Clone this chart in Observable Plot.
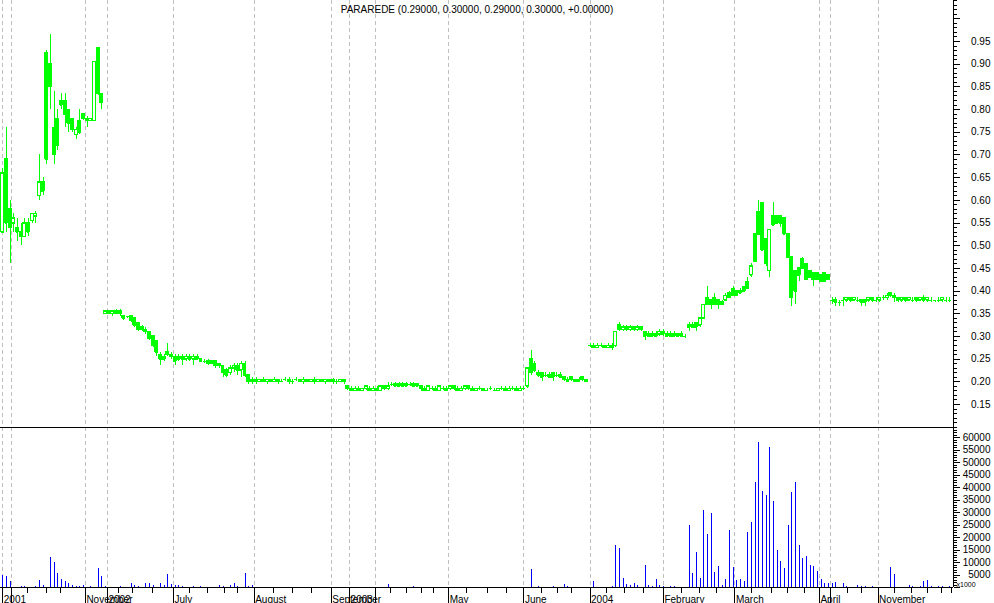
<!DOCTYPE html>
<html><head><meta charset="utf-8">
<script src="https://cdn.jsdelivr.net/npm/d3@7"></script>
<script src="https://cdn.jsdelivr.net/npm/@observablehq/plot@0.6"></script>
<style>
html,body{margin:0;padding:0;background:#fff;}
#chart svg{display:block;shape-rendering:crispEdges;}
</style></head><body><div id="chart"></div>
<script>
const title = "PARAREDE (0.29000, 0.30000, 0.29000, 0.30000, +0.00000)";

// [open, high, low, close] per trading bar
const bars2001 = [
[0.53,0.67,0.53,0.66],[0.69,0.76,0.53,0.55],[0.58,0.60,0.46,0.54],[0.55,0.57,0.53,0.56],[0.54,0.56,0.51,0.53],
[0.53,0.55,0.50,0.52],[0.52,0.56,0.52,0.55],[0.55,0.56,0.52,0.53],[0.555,0.57,0.55,0.57],[0.565,0.575,0.55,0.57],
[0.61,0.70,0.60,0.64],[0.64,0.65,0.61,0.62],[0.925,0.93,0.68,0.69],[0.90,0.965,0.80,0.85],[0.76,0.84,0.68,0.70],
[0.78,0.80,0.71,0.72],[0.82,0.835,0.80,0.81],[0.82,0.835,0.76,0.79],[0.80,0.80,0.75,0.77],[0.78,0.78,0.75,0.755],
[0.745,0.76,0.735,0.755],[0.775,0.80,0.745,0.75],[0.79,0.79,0.775,0.78],[0.78,0.785,0.76,0.775],[0.775,0.78,0.775,0.78],
[0.775,0.905,0.775,0.905],[0.935,0.935,0.83,0.835],[0.835,0.835,0.80,0.815]
];
const bars2002 = [
[0.35,0.355,0.348,0.355],[0.355,0.355,0.348,0.35],[0.35,0.355,0.345,0.355],[0.355,0.36,0.35,0.35],[0.355,0.36,0.345,0.35],
[0.345,0.345,0.335,0.34],[0.345,0.345,0.34,0.345],[0.345,0.345,0.33,0.335],[0.34,0.34,0.32,0.325],[0.33,0.33,0.31,0.315],
[0.32,0.325,0.31,0.315],[0.315,0.32,0.305,0.31],[0.31,0.31,0.29,0.295],[0.30,0.30,0.275,0.28],[0.29,0.29,0.255,0.265],
[0.26,0.265,0.235,0.25],[0.255,0.26,0.245,0.25],[0.265,0.285,0.255,0.26],[0.26,0.265,0.25,0.255],[0.255,0.26,0.235,0.245],
[0.255,0.26,0.245,0.25],[0.255,0.26,0.235,0.25],[0.25,0.26,0.245,0.255],[0.255,0.26,0.245,0.25],[0.25,0.26,0.235,0.255],
[0.255,0.26,0.25,0.25],[0.25,0.25,0.245,0.245],[0.245,0.25,0.24,0.245],[0.245,0.25,0.235,0.24],[0.245,0.245,0.24,0.24],
[0.245,0.245,0.23,0.235],[0.24,0.24,0.23,0.235],[0.235,0.235,0.21,0.22],[0.225,0.23,0.21,0.215],[0.22,0.235,0.215,0.23],
[0.23,0.24,0.22,0.235],[0.235,0.24,0.215,0.225],[0.225,0.245,0.21,0.24],[0.24,0.245,0.21,0.215],[0.215,0.215,0.195,0.20],
[0.205,0.21,0.195,0.20],[0.205,0.21,0.195,0.20],[0.20,0.205,0.20,0.205],[0.205,0.21,0.20,0.20],[0.20,0.205,0.195,0.205],
[0.205,0.205,0.20,0.20],[0.20,0.21,0.20,0.205],[0.205,0.205,0.195,0.20],[0.20,0.205,0.20,0.20],[0.205,0.21,0.20,0.205],
[0.205,0.21,0.195,0.20],[0.20,0.205,0.195,0.20],[0.205,0.21,0.20,0.205],[0.205,0.205,0.20,0.20],[0.20,0.21,0.195,0.205],
[0.205,0.205,0.20,0.20],[0.20,0.205,0.20,0.205],[0.205,0.21,0.195,0.20],[0.20,0.205,0.20,0.205],[0.205,0.205,0.20,0.20],
[0.20,0.205,0.195,0.205],[0.205,0.205,0.20,0.20],[0.205,0.207,0.195,0.20],[0.20,0.205,0.195,0.20],[0.20,0.205,0.20,0.205],
[0.205,0.205,0.195,0.20],[0.19,0.19,0.18,0.185]
];
const bars2003 = [
[0.185,0.19,0.18,0.18],[0.18,0.19,0.178,0.185],[0.185,0.19,0.18,0.18],[0.18,0.185,0.178,0.185],[0.185,0.19,0.18,0.19],
[0.185,0.19,0.178,0.18],[0.18,0.19,0.178,0.185],[0.185,0.19,0.18,0.18],[0.18,0.19,0.18,0.19],[0.19,0.19,0.18,0.185],
[0.185,0.198,0.18,0.19],[0.195,0.198,0.19,0.195],[0.195,0.198,0.19,0.19],[0.19,0.198,0.19,0.195],[0.195,0.198,0.19,0.19],
[0.19,0.198,0.19,0.195],[0.195,0.198,0.19,0.195],[0.195,0.198,0.19,0.19],[0.19,0.195,0.19,0.195],[0.19,0.19,0.178,0.185],
[0.185,0.19,0.18,0.18],[0.18,0.19,0.18,0.19],[0.185,0.19,0.18,0.185],[0.185,0.19,0.18,0.18],[0.18,0.19,0.178,0.19],
[0.185,0.19,0.18,0.185],[0.185,0.19,0.18,0.18],[0.185,0.19,0.18,0.19],[0.19,0.19,0.18,0.185],[0.185,0.19,0.178,0.18],
[0.18,0.19,0.18,0.185],[0.185,0.19,0.18,0.19],[0.19,0.19,0.18,0.185],[0.185,0.19,0.18,0.18],[0.18,0.185,0.178,0.185],
[0.185,0.19,0.18,0.185],[0.185,0.185,0.178,0.18],[0.18,0.185,0.178,0.18],[0.185,0.19,0.18,0.185],[0.18,0.185,0.178,0.18],
[0.18,0.185,0.178,0.185],[0.185,0.19,0.18,0.185],[0.185,0.19,0.18,0.18],[0.18,0.19,0.178,0.185],[0.185,0.19,0.18,0.185],
[0.185,0.19,0.18,0.18],[0.18,0.19,0.178,0.185],[0.185,0.19,0.18,0.185],[0.19,0.23,0.185,0.23],[0.25,0.27,0.215,0.22],
[0.24,0.245,0.22,0.225],[0.22,0.225,0.21,0.215],[0.22,0.22,0.20,0.21],[0.215,0.22,0.21,0.215],[0.215,0.22,0.21,0.21],
[0.22,0.22,0.20,0.21],[0.215,0.22,0.21,0.215],[0.215,0.22,0.21,0.21],[0.21,0.21,0.20,0.205],[0.205,0.21,0.20,0.20],
[0.21,0.21,0.20,0.205],[0.205,0.205,0.198,0.20],[0.205,0.21,0.198,0.20],[0.21,0.21,0.20,0.205],[0.205,0.205,0.20,0.20]
];
const bars2004 = [
[0.28,0.285,0.275,0.28],[0.28,0.285,0.275,0.275],[0.275,0.285,0.275,0.28],[0.28,0.285,0.275,0.28],[0.28,0.28,0.275,0.275],
[0.275,0.285,0.275,0.28],[0.28,0.285,0.27,0.275],[0.28,0.31,0.275,0.31],[0.325,0.33,0.31,0.315],[0.315,0.325,0.31,0.32],
[0.32,0.325,0.31,0.315],[0.315,0.325,0.31,0.32],[0.32,0.32,0.31,0.315],[0.315,0.325,0.31,0.32],[0.32,0.32,0.31,0.315],
[0.31,0.31,0.29,0.30],[0.305,0.31,0.30,0.30],[0.30,0.31,0.30,0.305],[0.305,0.31,0.30,0.30],[0.305,0.315,0.30,0.31],
[0.31,0.315,0.30,0.305],[0.305,0.31,0.30,0.30],[0.30,0.31,0.30,0.305],[0.305,0.31,0.30,0.30],[0.30,0.305,0.30,0.305],
[0.305,0.31,0.30,0.30],[0.30,0.305,0.295,0.30],[0.32,0.33,0.31,0.325],[0.325,0.33,0.32,0.32],[0.33,0.33,0.31,0.32],
[0.325,0.34,0.32,0.34],[0.34,0.37,0.34,0.37],[0.385,0.41,0.37,0.37],[0.38,0.38,0.36,0.37],[0.385,0.395,0.37,0.37],
[0.38,0.38,0.36,0.37],[0.375,0.38,0.37,0.37],[0.38,0.395,0.38,0.39],[0.395,0.40,0.385,0.385],[0.405,0.41,0.39,0.39],
[0.40,0.40,0.39,0.39],[0.40,0.405,0.395,0.395],[0.41,0.41,0.40,0.40],[0.42,0.43,0.405,0.405],[0.435,0.46,0.43,0.455],
[0.525,0.525,0.465,0.465],[0.575,0.60,0.525,0.525],[0.595,0.595,0.49,0.49],[0.515,0.515,0.455,0.46],[0.445,0.535,0.43,0.535],
[0.565,0.595,0.545,0.545],[0.565,0.565,0.55,0.55],[0.565,0.565,0.54,0.55],[0.56,0.56,0.525,0.525],[0.525,0.525,0.475,0.475],
[0.475,0.475,0.365,0.385],[0.445,0.445,0.37,0.40],[0.45,0.45,0.42,0.435],[0.47,0.475,0.45,0.45],[0.46,0.46,0.425,0.425],
[0.445,0.445,0.43,0.43],[0.44,0.44,0.41,0.425],[0.44,0.44,0.425,0.425],[0.435,0.435,0.42,0.42],[0.44,0.44,0.42,0.42],
[0.435,0.435,0.425,0.425],[0.38,0.385,0.37,0.38],[0.38,0.385,0.365,0.375],[0.375,0.38,0.365,0.375],[0.38,0.385,0.365,0.38],
[0.38,0.385,0.375,0.385],[0.385,0.385,0.375,0.38],[0.38,0.385,0.38,0.385],[0.38,0.385,0.375,0.38],[0.38,0.38,0.365,0.375],
[0.375,0.38,0.365,0.38],[0.38,0.385,0.375,0.385],[0.385,0.385,0.375,0.38],[0.38,0.385,0.375,0.38],[0.38,0.385,0.375,0.385],
[0.385,0.39,0.38,0.385],[0.385,0.395,0.38,0.39],[0.395,0.395,0.385,0.39],[0.39,0.395,0.375,0.385],[0.385,0.385,0.375,0.38],
[0.38,0.385,0.375,0.385],[0.385,0.385,0.375,0.38],[0.38,0.385,0.38,0.385],[0.38,0.385,0.375,0.38],[0.385,0.385,0.375,0.38],
[0.38,0.385,0.38,0.385],[0.385,0.39,0.375,0.38],[0.38,0.385,0.375,0.385],[0.38,0.385,0.375,0.38],[0.38,0.38,0.375,0.38],
[0.38,0.385,0.375,0.38],[0.38,0.385,0.375,0.385],[0.38,0.385,0.375,0.38],[0.38,0.385,0.375,0.38]
];

// volume per bar, thousands
const vol2001 = [4.8,4.4,2.4,0,0,0.4,0.4,0,0,0.4,2.8,0.8,0,12,10,5.6,3.2,2.4,1.6,0.8,0.4,0.4,0.8,0,0.4,0,7.6,4.4];
const vol2002 = [0.4,0,0,0,0.4,0,0,1.6,0.8,0.4,0,1.6,1.6,0.8,0,1.6,0.8,5.2,1.2,0.8,0.8,0.4,0,0,0.4,0,0.4,0,0,0,0,0.8,0.4,0,0.8,1.6,0.4,0,5.6,0.4,0.8,
0,0,0,0,0,0,0,0,0,0,0,0,0,0,0,0,0,0,0,0,0,0,0,0,0,0];
const vol2003 = [0,0,0,0,0,0,0,0,0,0,1.2,0,0,0,0,0,0,0.4,
0,0,0,0,0,0,0,0,0,0,0,0,0,0,0,0,0,0,0,0,0,0,0,0,0,0,0,0,0,0,0,
7.2,0,0.4,0,0,0,0.4,0,0,1.2,0.4,0,0,0,0,0];
const vol2004 = [0,2.4,0,0,0,0,0.4,16.8,15.6,3.6,1.2,0.8,1.6,0.8,0,8.8,0.8,0.4,3.2,0.8,0.4,0,0.4,0.4,0,0,0,
24.8,5.6,14,3.6,30.8,21.2,29.6,5.9,8.4,0.8,3.2,22.8,8,2.8,3.2,2.4,22,26,42,58,38.4,36.8,56,34.4,14.8,10.4,7.6,
24.8,38,42,16.8,11.6,12.4,8.8,8.4,6.4,3.2,1.6,1.6,1.6,2,0,1.6,0.4,0,0,0.8,0.4,0.4,0,0.4,0,0,0,0,8,5.2,0,0,0,
0.8,0.4,0,0.4,2.4,2.8,0.4,0,0.4,0.4,0,0.4];

// time axis (bar positions of month starts and weekly ticks)
const monthBreaks = [0, 2.5, 22.5, 28.5, 46.5, 68.5, 89.5, 94.5, 101.5, 121.5, 142, 160, 180, 199.5, 222.5, 225.5, 238.5];
const monthLabels = ["2001", "", "November", "2002", "July", "August", "September", "2003", "", "May", "June", "2004", "February", "March", "April", "", "November"];
const weekTicks = [6.8, 11.8, 15.7, 31.4, 35.3, 40.7, 50.8, 55.7, 60.4, 64, 73.8, 78.9, 84.2, 105.6, 110, 114.1, 117.4, 126.4, 132, 137.2, 146.7, 151.2, 155, 164.4, 169.4, 174.7, 184.9, 189.8, 194.4, 203.9, 209.4, 213.9, 218.4, 230.2, 233.9, 243, 247.5, 252, 255.9, 258.6];

const priceLabels = [0.15,0.20,0.25,0.30,0.35,0.40,0.45,0.50,0.55,0.60,0.65,0.70,0.75,0.80,0.85,0.90,0.95];
const volumeLabels = [5000,10000,15000,20000,25000,30000,35000,40000,45000,50000,55000,60000];
const unitLabel = "x1000";

const GREEN = "#00ff00";
const BLUE = "#0000ff";
const GRID = "#c0c0c0";
const FONT = "'Liberation Sans', Arial, sans-serif";

const bars = [...bars2001, ...bars2002, ...bars2003, ...bars2004]
  .map(([open, high, low, close], i) => ({i, open, high, low, close}));
const vols = [...vol2001, ...vol2002, ...vol2003, ...vol2004]
  .map((v, i) => ({i, v})).filter(d => d.v > 0);

const xDomain = [-0.627, 259.04];
const HB = 0.4; // half body width, in bars
const priceMinor = d3.range(10, 105).map(v => v / 100);
const priceMajor = d3.range(10, 105, 5).map(v => v / 100);

const price = Plot.plot({
  width: 994, height: 427,
  marginTop: 0, marginBottom: 0, marginLeft: 0, marginRight: 41,
  x: {domain: xDomain, axis: null},
  y: {domain: [0.0993, 1.0404], axis: null},
  style: {fontFamily: FONT, fontSize: "10px", background: "white", color: "black"},
  marks: [
    Plot.ruleX(monthBreaks, {stroke: GRID, strokeDasharray: "4,3"}),
    Plot.ruleX(bars, {x: "i", y1: "low", y2: "high", stroke: GREEN}),
    Plot.rect(bars, {x1: d => d.i - HB, x2: d => d.i + HB, y1: "open", y2: "close",
      stroke: GREEN, fill: d => d.close > d.open ? "white" : GREEN}),
    Plot.ruleY(bars, {y: "open", x1: d => d.i - HB, x2: d => d.i + HB, stroke: GREEN}),
    Plot.ruleY(bars, {y: "close", x1: d => d.i - HB, x2: d => d.i + HB, stroke: GREEN}),
    Plot.ruleX([xDomain[1]], {stroke: "black"}),
    Plot.axisY(priceMinor, {anchor: "right", tickSize: 3, tickFormat: () => "", label: null}),
    Plot.axisY(priceMajor, {anchor: "right", tickSize: 6, tickFormat: () => "", label: null}),
    Plot.text(priceLabels, {y: d => d, text: d => d.toFixed(2), frameAnchor: "right",
      dx: 37, textAnchor: "end", lineAnchor: "middle", fill: "black"}),
    Plot.text([title], {text: d => d, frameAnchor: "top", dy: 5, lineAnchor: "top", fill: "black"})
  ]
});

const volume = Plot.plot({
  width: 994, height: 176,
  marginTop: 0, marginBottom: 16, marginLeft: 0, marginRight: 41,
  x: {domain: xDomain, label: null},
  y: {domain: [0, 64], axis: null, label: null},
  style: {fontFamily: FONT, fontSize: "10px", background: "white", color: "black"},
  marks: [
    Plot.ruleX(monthBreaks, {stroke: GRID, strokeDasharray: "4,3"}),
    Plot.ruleX(vols, {x: "i", y1: 0, y2: "v", stroke: BLUE}),
    Plot.ruleY([0], {stroke: "black"}),
    Plot.ruleY([64], {stroke: "black"}),
    Plot.ruleX([xDomain[1]], {stroke: "black"}),
    Plot.axisX(monthBreaks, {anchor: "bottom", tickSize: 16, tickFormat: () => "", label: null}),
    Plot.axisX(weekTicks, {anchor: "bottom", tickSize: 6, tickFormat: () => "", label: null}),
    Plot.text(monthBreaks, {x: d => d, text: (d, i) => monthLabels[i], frameAnchor: "bottom",
      dy: 15, dx: 1, textAnchor: "start", lineAnchor: "bottom", fill: "black"}),
    Plot.axisY(d3.range(0, 65, 1), {anchor: "right", tickSize: 3, tickFormat: () => "", label: null}),
    Plot.axisY(d3.range(0, 65, 5), {anchor: "right", tickSize: 6, tickFormat: () => "", label: null}),
    Plot.text(volumeLabels, {y: d => d / 1000, text: d => String(d), frameAnchor: "right",
      dx: 37, textAnchor: "end", lineAnchor: "middle", fill: "black"}),
    Plot.text([unitLabel], {text: d => d, frameAnchor: "bottom-right", dx: 3, dy: -1,
      textAnchor: "start", lineAnchor: "bottom", fontSize: 7, fill: "black"})
  ]
});

const root = document.getElementById("chart");
root.appendChild(price);
root.appendChild(volume);

// box around the unit label
d3.select(volume).selectAll("text").each(function() {
  if (this.textContent === unitLabel) {
    const b = this.getBBox();
    d3.select(this.parentNode).insert("rect", "text")
      .attr("x", b.x - 3).attr("y", b.y - 1)
      .attr("width", b.width + 5).attr("height", b.height + 1)
      .attr("fill", "white").attr("stroke", "black");
  }
});
</script>
</body></html>
